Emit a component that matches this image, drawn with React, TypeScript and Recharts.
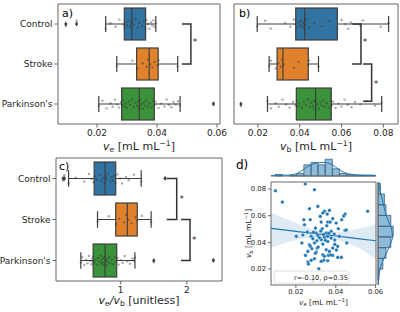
import React from 'react';
import { ComposedChart, Bar, Scatter, XAxis, YAxis, ReferenceArea, Line, Area } from 'recharts';

const FONT = "'DejaVu Sans', sans-serif";
const INK = '#262626';
const EDGE = '#3f3f3f';
const FRAME = '#666666';

const groups = ['Control', 'Stroke', "Parkinson's"];
const boxColors = ['#3274a1', '#e1812c', '#3a923a'];

// ---------- panel a: v_e ----------
const veLo = [0.0229, 0.0266, 0.0206];
const veQ1 = [0.0291, 0.0332, 0.0282];
const veMed = [0.0316, 0.0374, 0.0341];
const veQ3 = [0.0362, 0.0404, 0.0391];
const veHi = [0.0396, 0.0469, 0.0477];
const veOutliers = [{ g: 0, v: 0.0096 }, { g: 0, v: 0.0132 }, { g: 2, v: 0.0588 }];
const controlVe = [0.0096, 0.0132, 0.0229, 0.0245, 0.0262, 0.0275, 0.0288, 0.0291, 0.0295, 0.03, 0.0305, 0.031, 0.0314, 0.0316, 0.0318, 0.0322, 0.0328, 0.0335, 0.0342, 0.035, 0.0356, 0.0362, 0.0365, 0.037, 0.0375, 0.038, 0.0384, 0.0388, 0.0392, 0.0396];
const strokeVe = [0.0266, 0.0318, 0.0335, 0.0352, 0.0365, 0.037, 0.0378, 0.0385, 0.0392, 0.0402, 0.0405, 0.0469];
const parkVe = [0.0206, 0.0218, 0.0232, 0.0245, 0.0252, 0.026, 0.0268, 0.0274, 0.028, 0.0284, 0.0288, 0.0292, 0.0296, 0.03, 0.0305, 0.031, 0.0316, 0.0322, 0.0328, 0.0334, 0.0338, 0.0341, 0.0344, 0.0348, 0.0352, 0.0356, 0.036, 0.0365, 0.037, 0.0376, 0.0382, 0.0388, 0.0391, 0.0395, 0.0405, 0.0415, 0.0425, 0.0432, 0.044, 0.0448, 0.0455, 0.0462, 0.047, 0.0477, 0.0588];
const veBrackets = [{ x0: 0.0483, x1: 0.0513, g0: 0, g1: 1 }];
const veStars = [{ x: 0.0527, y: 0.4 }];

// ---------- panel b: v_b ----------
const vbLo = [0.0197, 0.0254, 0.0246];
const vbQ1 = [0.0381, 0.0292, 0.0384];
const vbMed = [0.0424, 0.032, 0.0476];
const vbQ3 = [0.058, 0.0441, 0.0551];
const vbHi = [0.0825, 0.049, 0.0792];
const vbOutliers = [{ g: 2, v: 0.0119 }];
const controlVb = [0.0197, 0.0235, 0.0262, 0.033, 0.0355, 0.0372, 0.0381, 0.039, 0.0398, 0.0402, 0.0408, 0.0412, 0.0416, 0.042, 0.0422, 0.0426, 0.0432, 0.0445, 0.047, 0.0505, 0.054, 0.058, 0.06, 0.0618, 0.0632, 0.0645, 0.069, 0.0702, 0.0787, 0.0825];
const strokeVb = [0.0254, 0.0262, 0.0285, 0.0298, 0.031, 0.0316, 0.0324, 0.0372, 0.0395, 0.044, 0.0445, 0.049];
const parkVb = [0.0119, 0.0246, 0.0262, 0.0285, 0.03, 0.0318, 0.0335, 0.0352, 0.0368, 0.038, 0.0386, 0.0392, 0.04, 0.041, 0.042, 0.043, 0.044, 0.0448, 0.0455, 0.0462, 0.0468, 0.0472, 0.0476, 0.0482, 0.049, 0.0498, 0.0505, 0.0512, 0.052, 0.053, 0.054, 0.0548, 0.0552, 0.056, 0.0572, 0.0585, 0.06, 0.0615, 0.063, 0.0648, 0.0665, 0.069, 0.072, 0.076, 0.0792];
const vbBrackets = [{ x0: 0.0651, x1: 0.0693, g0: 0, g1: 1 }, { x0: 0.0703, x1: 0.0744, g0: 1, g1: 1.93 }];
const vbStars = [{ x: 0.0712, y: 0.4 }, { x: 0.0765, y: 1.44 }];

// ---------- panel c: v_e / v_b ----------
const rLo = [0.213, 0.65, 0.398];
const rQ1 = [0.599, 0.925, 0.584];
const rMed = [0.764, 1.1, 0.764];
const rQ3 = [0.925, 1.25, 0.94];
const rHi = [1.31, 1.46, 1.215];
const rOutliers = [{ g: 0, v: 0.13 }, { g: 0, v: 0.15 }, { g: 0, v: 1.67 }, { g: 2, v: 1.5 }, { g: 2, v: 2.4 }];
const controlRatio = [0.13, 0.15, 0.213, 0.32, 0.45, 0.52, 0.56, 0.59, 0.61, 0.64, 0.68, 0.71, 0.74, 0.76, 0.77, 0.79, 0.81, 0.84, 0.86, 0.88, 0.9, 0.92, 0.95, 0.99, 1.02, 1.08, 1.12, 1.2, 1.31, 1.67];
const strokeRatio = [0.65, 0.82, 0.93, 0.98, 1.05, 1.08, 1.12, 1.16, 1.22, 1.25, 1.32, 1.46];
const parkRatio = [0.398, 0.42, 0.45, 0.48, 0.5, 0.52, 0.54, 0.56, 0.57, 0.58, 0.59, 0.6, 0.62, 0.64, 0.66, 0.68, 0.7, 0.71, 0.72, 0.73, 0.74, 0.75, 0.764, 0.78, 0.79, 0.8, 0.81, 0.83, 0.85, 0.87, 0.89, 0.91, 0.93, 0.95, 0.97, 1.0, 1.03, 1.06, 1.1, 1.14, 1.18, 1.2, 1.215, 1.5, 2.4];
const rBrackets = [{ x0: 1.695, x1: 1.846, g0: 0, g1: 1 }, { x0: 1.911, x1: 2.047, g0: 1, g1: 2 }];
const rStars = [{ x: 1.922, y: 0.44 }, { x: 2.112, y: 1.46 }];

// strip-plot jitter (fraction of a category step)
const jitter = [0.05, -0.08, 0.11, -0.02, 0.07, -0.11, 0.01, 0.09, -0.05, 0.03, -0.09, 0.06, -0.01, 0.1, -0.06, 0.02, -0.12, 0.08, -0.03, 0.05, -0.07, 0.11, -0.1, 0.0, 0.12, -0.04, 0.04, -0.09, 0.07, -0.02, 0.09, -0.08, 0.03, -0.06, 0.1, -0.01, 0.06, -0.11, 0.02, 0.08, -0.05, 0.01, -0.07, 0.04, -0.03];

// ---------- panel d: joint plot ----------
const scatterVe = [0.0097, 0.0247, 0.0132, 0.0293, 0.031, 0.0268, 0.056, 0.0368, 0.0343, 0.0335, 0.0357, 0.0447, 0.024, 0.0272, 0.0322, 0.036, 0.0372, 0.0327, 0.043, 0.0243, 0.0402, 0.0298, 0.0332, 0.0257, 0.0302, 0.0352, 0.0377, 0.0413, 0.0447, 0.0202, 0.0277, 0.031, 0.0343, 0.036, 0.0377, 0.0285, 0.0327, 0.023, 0.0268, 0.0293, 0.0335, 0.036, 0.0455, 0.0273, 0.028, 0.0307, 0.0385, 0.041, 0.026, 0.0302, 0.0368, 0.0248, 0.0335, 0.0343, 0.0363, 0.0385, 0.041, 0.0277, 0.034, 0.0293, 0.026, 0.0263, 0.0327, 0.036, 0.0315, 0.0285, 0.0403, 0.0428, 0.0375, 0.0453, 0.044, 0.0318, 0.0338, 0.0365, 0.0392, 0.0305, 0.0348, 0.0395, 0.0288, 0.0325, 0.0355, 0.0385, 0.0312, 0.0352, 0.0395, 0.0235, 0.0418, 0.0298];
const scatterVb = [0.0787, 0.0838, 0.0702, 0.0795, 0.067, 0.0652, 0.0633, 0.064, 0.0633, 0.062, 0.0612, 0.0612, 0.057, 0.057, 0.0595, 0.0552, 0.0552, 0.0552, 0.057, 0.0532, 0.0545, 0.0507, 0.0502, 0.0477, 0.047, 0.047, 0.0483, 0.0502, 0.049, 0.0445, 0.0445, 0.0453, 0.0438, 0.0445, 0.0432, 0.0427, 0.042, 0.0395, 0.0382, 0.0395, 0.0387, 0.0407, 0.0395, 0.037, 0.0352, 0.0357, 0.0357, 0.037, 0.0332, 0.0327, 0.0332, 0.0302, 0.0307, 0.0295, 0.0302, 0.0302, 0.0287, 0.0265, 0.0265, 0.0277, 0.0252, 0.0237, 0.0257, 0.0262, 0.0202, 0.0112, 0.0342, 0.0287, 0.0305, 0.0493, 0.0597, 0.0435, 0.0458, 0.0468, 0.0462, 0.0412, 0.0415, 0.0418, 0.0475, 0.0485, 0.0525, 0.0578, 0.0365, 0.0345, 0.0385, 0.0455, 0.0445, 0.0318];
const regX = [0.0075, 0.015, 0.022, 0.028, 0.034, 0.04, 0.046, 0.053, 0.0602];
const regFit = [0.0505, 0.0492, 0.0479, 0.0469, 0.0458, 0.0448, 0.0437, 0.0425, 0.0412];
const regLo = [0.036, 0.0398, 0.0425, 0.0434, 0.0432, 0.0418, 0.0393, 0.0348, 0.0272];
const regHi = [0.062, 0.0578, 0.0532, 0.0502, 0.0484, 0.0478, 0.0484, 0.0505, 0.054];
const veBinEdges = [0.0097, 0.0133, 0.0169, 0.0204, 0.024, 0.0276, 0.0311, 0.0347, 0.0383, 0.0418, 0.0454, 0.049, 0.0525, 0.0561, 0.0597];
const veBinCounts = [2, 0, 1, 3, 14, 17, 14, 21, 9, 3, 2, 1, 1, 1];
const veKdeX = [0.0075, 0.011, 0.015, 0.019, 0.022, 0.025, 0.028, 0.031, 0.034, 0.037, 0.04, 0.043, 0.046, 0.05, 0.054, 0.058, 0.0602];
const veKdeY = [0.5, 1.2, 1.0, 2.0, 5.0, 10.5, 14.5, 16.5, 17.0, 15.5, 11.0, 6.0, 3.0, 1.5, 1.0, 0.8, 0.6];
const vbBinEdges = [0.0119, 0.0199, 0.028, 0.036, 0.0441, 0.0521, 0.0602, 0.0682, 0.0763, 0.0843];
const vbBinCounts = [1, 6, 10, 16, 19, 16, 10, 8, 3];
const vbKdeY = [0.008, 0.014, 0.02, 0.026, 0.032, 0.038, 0.044, 0.05, 0.056, 0.062, 0.068, 0.074, 0.08, 0.0853];
const vbKdeX = [0.3, 1.0, 2.5, 6.0, 10.5, 15.0, 18.0, 17.0, 13.0, 9.5, 7.0, 4.5, 2.0, 0.8];
const corrText = 'r=-0.10, p=0.35';

// ---------- shapes ----------
const WhiskerShape = (p: any) => {
  const cy = p.y + p.height / 2;
  const cap = p.height / 4;
  return (
    <g>
      <line x1={p.x} x2={p.x + p.width} y1={cy} y2={cy} stroke={EDGE} strokeWidth={1.2} />
      <line x1={p.x} x2={p.x} y1={cy - cap} y2={cy + cap} stroke={EDGE} strokeWidth={1.2} />
      <line x1={p.x + p.width} x2={p.x + p.width} y1={cy - cap} y2={cy + cap} stroke={EDGE} strokeWidth={1.2} />
    </g>
  );
};
const BoxShape = (p: any) => (
  <rect x={p.x} y={p.y} width={p.width} height={p.height} fill={p.payload.color} stroke={EDGE} strokeWidth={1.2} />
);
const MedianShape = (p: any) => (
  <line x1={p.x} x2={p.x} y1={p.y} y2={p.y + p.height} stroke={EDGE} strokeWidth={1.2} />
);
const StripDot = (p: any) => <circle cx={p.cx} cy={p.cy} r={1.2} fill="#333" fillOpacity={0.42} />;
const Diamond = (p: any) => (
  <polygon points={`${p.cx},${p.cy - 2.4} ${p.cx + 1.6},${p.cy} ${p.cx},${p.cy + 2.4} ${p.cx - 1.6},${p.cy}`} fill={EDGE} />
);
const Empty = () => <g />;
const Star = (p: any) => (
  <text x={p.cx} y={p.cy + 5} textAnchor="middle" fontSize={9} fill={INK} fontFamily={FONT}>*</text>
);
const BlueDot = (p: any) => <circle cx={p.cx} cy={p.cy} r={1.8} fill="#1f77b4" stroke="#ffffff" strokeWidth={0.3} />;

type Stat = number[];
type PanelProps = {
  width: number; height: number;
  margin: { top: number; right: number; bottom: number; left: number };
  yAxisWidth: number; xAxisHeight: number; domain: [number, number]; ticks: number[];
  fmt: (v: number) => string; showLabels: boolean; barSize: number;
  lo: Stat; q1: Stat; med: Stat; q3: Stat; hi: Stat;
  strips: number[][]; outliers: { g: number; v: number }[];
  brackets: { x0: number; x1: number; g0: number; g1: number }[];
  stars: { x: number; y: number }[];
};

function BoxPanel(props: PanelProps) {
  const { lo, q1, med, q3, hi } = props;
  const rows = groups.map((g, i) => ({
    group: g,
    whisk: [lo[i], hi[i]],
    box: [q1[i], q3[i]],
    med: [med[i], med[i]],
    color: boxColors[i],
  }));
  const stripData = props.strips.flatMap((vals, g) => vals.map((v, k) => ({ x: v, y: g + jitter[k % jitter.length] })));
  const outlierData = props.outliers.map((o) => ({ x: o.v, y: o.g }));
  const tickStyle = { fontSize: 9, fill: INK, fontFamily: FONT };
  return (
    <ComposedChart width={props.width} height={props.height} margin={props.margin} layout="vertical" data={rows} barGap={-props.barSize}>
      <XAxis type="number" dataKey="x" domain={props.domain} ticks={props.ticks} allowDataOverflow interval={0}
        axisLine={false} tickSize={3.5} tickMargin={2} tick={tickStyle} tickLine={{ stroke: FRAME }}
        tickFormatter={props.fmt} height={props.xAxisHeight} />
      <YAxis yAxisId="cat" type="category" dataKey="group" width={props.yAxisWidth} axisLine={false}
        tickSize={3.5} tickMargin={2} tick={props.showLabels ? tickStyle : false} tickLine={{ stroke: FRAME }} interval={0} />
      <YAxis yAxisId="num" type="number" dataKey="y" domain={[-0.5, 2.5]} hide allowDataOverflow />
      <Bar yAxisId="cat" dataKey="whisk" barSize={props.barSize} shape={WhiskerShape} isAnimationActive={false} />
      <Bar yAxisId="cat" dataKey="box" barSize={props.barSize} shape={BoxShape} isAnimationActive={false} />
      <Bar yAxisId="cat" dataKey="med" barSize={props.barSize} shape={MedianShape} isAnimationActive={false} />
      <Scatter yAxisId="num" data={stripData} shape={StripDot} isAnimationActive={false} />
      <Scatter yAxisId="num" data={outlierData} shape={Diamond} isAnimationActive={false} />
      {props.brackets.map((b, i) => (
        <Scatter key={`br${i}`} yAxisId="num" shape={Empty} isAnimationActive={false}
          data={[{ x: b.x0, y: b.g0 }, { x: b.x1, y: b.g0 }, { x: b.x1, y: b.g1 }, { x: b.x0, y: b.g1 }]}
          line={{ stroke: '#333', strokeWidth: 1.5 }} />
      ))}
      <Scatter yAxisId="num" data={props.stars} shape={Star} isAnimationActive={false} />
      <ReferenceArea yAxisId="num" x1={props.domain[0]} x2={props.domain[1]} y1={-0.5} y2={2.5}
        fill="none" stroke={FRAME} strokeWidth={1} ifOverflow="visible" />
    </ComposedChart>
  );
}

const fmt2 = (v: number) => v.toFixed(2);
const fmtInt = (v: number) => String(Math.round(v));

const UnitLabel = ({ x, y, sub, fs, rotate }: { x: number; y: number; sub: string; fs: number; rotate?: boolean }) => (
  <text x={x} y={y} fontSize={fs} textAnchor="middle" fill={INK} fontFamily={FONT}
    transform={rotate ? `rotate(-90 ${x} ${y})` : undefined}>
    <tspan fontStyle="italic">v</tspan>
    <tspan fontSize={fs * 0.7} dy={fs * 0.2}>{sub}</tspan>
    <tspan dy={-fs * 0.2}>{'\u00a0[mL mL'}</tspan>
    <tspan fontSize={fs * 0.7} dy={-fs * 0.4}>{'\u22121'}</tspan>
    <tspan dy={fs * 0.4}>]</tspan>
  </text>
);

export default function App() {
  const scatterData = scatterVe.map((v, i) => ({ x: v, y: scatterVb[i] }));
  const regData = regX.map((x, i) => ({ x, fit: regFit[i], ci: [regLo[i], regHi[i]] }));
  const veKde = veKdeX.map((x, i) => ({ x, y: veKdeY[i] }));
  const vbKde = vbKdeY.map((y, i) => ({ x: vbKdeX[i], y }));
  const dTick = { fontSize: 6.8, fill: INK, fontFamily: FONT };
  const dXDomain: [number, number] = [0.0075, 0.0602];
  const dYDomain: [number, number] = [0.008, 0.0853];
  const histFill = '#1f77b4';
  const histEdge = '#3d5f7c';

  return (
    <div style={{ position: 'absolute', left: 0, top: 0, width: 400, height: 312, background: '#fff', overflow: 'hidden', fontFamily: FONT }}>
      <div style={{ position: 'absolute', left: 0, top: 0 }}>
        <BoxPanel width={230} height={152} margin={{ top: 4, right: 10, bottom: 0, left: 0 }} yAxisWidth={58} xAxisHeight={28}
          domain={[0.007, 0.061]} ticks={[0.02, 0.04, 0.06]} fmt={fmt2} showLabels barSize={32}
          lo={veLo} q1={veQ1} med={veMed} q3={veQ3} hi={veHi}
          strips={[controlVe, strokeVe, parkVe]} outliers={veOutliers} brackets={veBrackets} stars={veStars} />
      </div>
      <div style={{ position: 'absolute', left: 200, top: 0 }}>
        <BoxPanel width={200} height={152} margin={{ top: 4, right: 2, bottom: 0, left: 0 }} yAxisWidth={34} xAxisHeight={28}
          domain={[0.0086, 0.087]} ticks={[0.02, 0.04, 0.06, 0.08]} fmt={fmt2} showLabels={false} barSize={32}
          lo={vbLo} q1={vbQ1} med={vbMed} q3={vbQ3} hi={vbHi}
          strips={[controlVb, strokeVb, parkVb]} outliers={vbOutliers} brackets={vbBrackets} stars={vbStars} />
      </div>
      <div style={{ position: 'absolute', left: 0, top: 152 }}>
        <BoxPanel width={232} height={160} margin={{ top: 6, right: 10, bottom: 0, left: 0 }} yAxisWidth={56} xAxisHeight={31}
          domain={[0.023, 2.53]} ticks={[1, 2]} fmt={fmtInt} showLabels barSize={33}
          lo={rLo} q1={rQ1} med={rMed} q3={rQ3} hi={rHi}
          strips={[controlRatio, strokeRatio, parkRatio]} outliers={rOutliers} brackets={rBrackets} stars={rStars} />
      </div>

      {/* panel d: top marginal histogram */}
      <div style={{ position: 'absolute', left: 230, top: 156 }}>
        <ComposedChart width={150} height={21} margin={{ top: 2, right: 4, bottom: 0, left: 41 }} data={veKde}>
          <XAxis type="number" dataKey="x" domain={dXDomain} allowDataOverflow height={1} tick={false} tickLine={false} axisLine={{ stroke: FRAME }} />
          <YAxis type="number" dataKey="y" domain={[0, 22.6]} hide allowDataOverflow />
          {veBinCounts.map((c, i) => c > 0 ? (
            <ReferenceArea key={`vh${i}`} x1={veBinEdges[i]} x2={veBinEdges[i + 1]} y1={0} y2={c}
              fill={histFill} fillOpacity={0.5} stroke={histEdge} strokeWidth={0.8} ifOverflow="visible" />
          ) : null)}
          <Scatter data={veKde} shape={Empty} line={{ stroke: '#1f77b4', strokeWidth: 1 }} lineJointType="monotoneX" isAnimationActive={false} />
        </ComposedChart>
      </div>

      {/* panel d: right marginal histogram */}
      <div style={{ position: 'absolute', left: 372, top: 178 }}>
        <ComposedChart width={28} height={134} margin={{ top: 4, right: 2, bottom: 27, left: 0 }} data={vbKde}>
          <XAxis type="number" dataKey="x" domain={[0, 25]} hide allowDataOverflow />
          <YAxis type="number" dataKey="y" domain={dYDomain} allowDataOverflow width={6} tick={false} tickLine={false} axisLine={{ stroke: FRAME }} />
          {vbBinCounts.map((c, i) => (
            <ReferenceArea key={`bh${i}`} x1={0} x2={c} y1={vbBinEdges[i]} y2={vbBinEdges[i + 1]}
              fill={histFill} fillOpacity={0.5} stroke={histEdge} strokeWidth={0.8} ifOverflow="visible" />
          ))}
          <Scatter data={vbKde} shape={Empty} line={{ stroke: '#1f77b4', strokeWidth: 1 }} lineJointType="monotoneY" isAnimationActive={false} />
        </ComposedChart>
      </div>

      {/* panel d: scatter with regression */}
      <div style={{ position: 'absolute', left: 230, top: 178 }}>
        <ComposedChart width={172} height={134} margin={{ top: 4, right: 26, bottom: 0, left: 0 }} data={regData}>
          <XAxis type="number" dataKey="x" domain={dXDomain} ticks={[0.02, 0.04, 0.06]} allowDataOverflow interval={0}
            height={27} tickSize={3} tickMargin={1} axisLine={false} tick={dTick} tickLine={{ stroke: FRAME }} tickFormatter={fmt2} />
          <YAxis type="number" dataKey="y" domain={dYDomain} ticks={[0.02, 0.04, 0.06, 0.08]} allowDataOverflow interval={0}
            width={41} tickSize={3} tickMargin={2} axisLine={false} tick={dTick} tickLine={{ stroke: FRAME }} tickFormatter={fmt2} />
          <Area dataKey="ci" type="linear" stroke="none" fill="#1f77b4" fillOpacity={0.15} isAnimationActive={false} />
          <Scatter data={scatterData} shape={BlueDot} isAnimationActive={false} />
          <Line dataKey="fit" type="linear" stroke="#1f77b4" strokeWidth={1.2} dot={false} isAnimationActive={false} />
          <ReferenceArea x1={dXDomain[0]} x2={dXDomain[1]} y1={dYDomain[0]} y2={dYDomain[1]} fill="none" stroke={FRAME} strokeWidth={1} ifOverflow="visible" />
        </ComposedChart>
      </div>

      {/* titles, panel letters and legend */}
      <svg width={400} height={312} style={{ position: 'absolute', left: 0, top: 0, pointerEvents: 'none' }}>
        <text x={62} y={17} fontSize={11} fill="#000" fontFamily={FONT}>a)</text>
        <text x={239} y={17} fontSize={11} fill="#000" fontFamily={FONT}>b)</text>
        <text x={59} y={170} fontSize={11} fill="#000" fontFamily={FONT}>c)</text>
        <text x={236} y={169} fontSize={12} fill="#000" fontFamily={FONT}>d)</text>
        <UnitLabel x={139} y={150} sub="e" fs={11} />
        <UnitLabel x={316} y={150} sub="b" fs={11} />
        <text x={139} y={304} fontSize={11} textAnchor="middle" fill={INK} fontFamily={FONT}>
          <tspan fontStyle="italic">v</tspan>
          <tspan fontSize={7.7} dy={2.2}>e</tspan>
          <tspan dy={-2.2} fontStyle="italic">/v</tspan>
          <tspan fontSize={7.7} dy={2.2}>b</tspan>
          <tspan dy={-2.2}>{'\u00a0[unitless]'}</tspan>
        </text>
        <UnitLabel x={323.5} y={304.5} sub="e" fs={7.5} />
        <UnitLabel x={251} y={233.5} sub="b" fs={7.5} rotate />
        <rect x={274} y={271} width={75} height={12} rx={2} fill="#fff" fillOpacity={0.8} stroke="#d6d6d6" strokeWidth={0.8} />
        <text x={294} y={279.5} fontSize={6.6} fill={INK} fontFamily={FONT}>{corrText}</text>
      </svg>
    </div>
  );
}
